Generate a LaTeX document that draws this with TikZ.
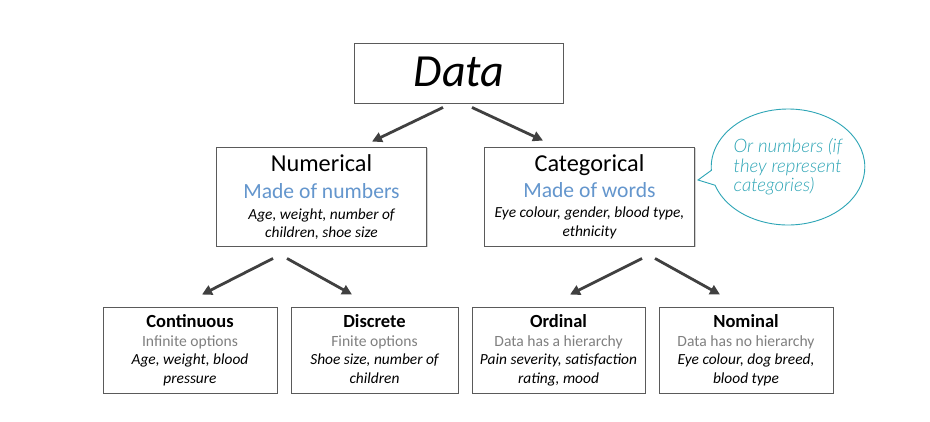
\documentclass[tikz,border=0pt]{standalone}
\usepackage{fontspec}
\setmainfont{Carlito}
\newfontfamily\notefont{Lato Light}[ItalicFont={Lato Light Italic}]
\usetikzlibrary{arrows.meta,shadows,shapes.callouts}

\definecolor{boxline}{RGB}{90,90,90}
\definecolor{arrowgray}{RGB}{64,64,64}
\definecolor{headblue}{RGB}{100,150,205}
\definecolor{subgray}{RGB}{128,128,128}
\definecolor{noteteal}{RGB}{45,165,182}

\tikzset{
  box/.style={draw=boxline, line width=0.9pt, fill=white, inner sep=0pt,
    drop shadow={shadow xshift=1.3pt, shadow yshift=-1.3pt, opacity=0.35}},
  topbox/.style={box, minimum width=210pt, minimum height=99pt},
  lowbox/.style={box, minimum height=86pt},
  arr/.style={draw=arrowgray, line width=2.8pt,
    -{Triangle[length=10pt,width=10pt]}},
  ln/.style={anchor=base, inner sep=0pt},
  bigtitle/.style={ln, font=\fontsize{24.3}{28}\selectfont},
  bluetag/.style={ln, text=headblue, font=\fontsize{21.6}{25}\selectfont},
  toptext/.style={ln, font=\fontsize{15.4}{18}\selectfont\itshape},
  lowtitle/.style={ln, font=\fontsize{18.5}{21}\selectfont\bfseries},
  graytag/.style={ln, text=subgray, font=\fontsize{15.6}{18}\selectfont},
  lowtext/.style={ln, font=\fontsize{15.4}{18}\selectfont\itshape},
}

\begin{document}
\begin{tikzpicture}[x=1pt, y=-1pt]
  \fill[white] (0,0) rectangle (930,422);
  \useasboundingbox (0,0) rectangle (930,422);

  % root
  \node[box, minimum width=209pt, minimum height=60pt] (data) at (458.5,73) {};
  \node[ln, font=\fontsize{46}{50}\selectfont\itshape] (dataT) at (459,87) {Data};

  % second level
  \node[topbox] (num) at (321.5,196.5) {};
  \node[bigtitle] (numA) at (321.5,172) {Numerical};
  \node[bluetag] (numB) at (321.5,199) {Made of numbers};
  \node[toptext] (numC) at (321.5,220) {Age, weight, number of};
  \node[toptext] (numD) at (321.5,238) {children, shoe size};

  \node[topbox] (cat) at (589.5,196.5) {};
  \node[bigtitle] (catA) at (589.5,172) {Categorical};
  \node[bluetag] (catB) at (589.5,198) {Made of words};
  \node[toptext] (catC) at (589.5,218) {Eye colour, gender, blood type,};
  \node[toptext] (catD) at (589.5,237) {ethnicity};

  % third level
  \node[lowbox, minimum width=174pt] (cont) at (190,350) {};
  \node[lowtitle] (contA) at (190,327) {Continuous};
  \node[graytag] (contB) at (190,347) {Infinite options};
  \node[lowtext] (contC) at (190,365) {Age, weight, blood};
  \node[lowtext] (contD) at (190,383) {pressure};

  \node[lowbox, minimum width=167pt] (disc) at (374.5,350) {};
  \node[lowtitle] (discA) at (374.5,327) {Discrete};
  \node[graytag] (discB) at (374.5,347) {Finite options};
  \node[lowtext] (discC) at (374.5,365) {Shoe size, number of};
  \node[lowtext] (discD) at (374.5,383) {children};

  \node[lowbox, minimum width=173pt] (ord) at (558.5,350) {};
  \node[lowtitle] (ordA) at (558.5,327) {Ordinal};
  \node[graytag] (ordB) at (558.5,347) {Data has a hierarchy};
  \node[lowtext] (ordC) at (558.5,365) {Pain severity, satisfaction};
  \node[lowtext] (ordD) at (558.5,383) {rating, mood};

  \node[lowbox, minimum width=174pt] (nom) at (746,350) {};
  \node[lowtitle] (nomA) at (746,327) {Nominal};
  \node[graytag] (nomB) at (746,347) {Data has no hierarchy};
  \node[lowtext] (nomC) at (746,365) {Eye colour, dog breed,};
  \node[lowtext] (nomD) at (746,383) {blood type};

  % side note
  \node[ellipse callout, draw=noteteal, line width=0.9pt, fill=white,
        minimum width=140pt, minimum height=116pt, inner sep=0pt,
        callout absolute pointer={(698,180)}, text=noteteal, align=left,
        font=\notefont\itshape\fontsize{18.6}{19.5}\selectfont]
    (note) at (788,167) {Or numbers (if\\they represent\\categories)};

  % connectors
  \draw[arr] ([xshift=-15.5pt,yshift=-4pt]data.south) -- ([xshift=50.5pt,yshift=5pt]num.north);
  \draw[arr] ([xshift=13.5pt,yshift=-4pt]data.south) -- ([xshift=-46.5pt,yshift=6pt]cat.north);
  \draw[arr] ([xshift=-48.5pt,yshift=-12pt]num.south) -- ([xshift=12pt,yshift=12pt]cont.north);
  \draw[arr] ([xshift=-34.5pt,yshift=-12pt]num.south) -- ([xshift=-22.5pt,yshift=12pt]disc.north);
  \draw[arr] ([xshift=52.5pt,yshift=-12pt]cat.south) -- ([xshift=11.5pt,yshift=12pt]ord.north);
  \draw[arr] ([xshift=65.5pt,yshift=-12pt]cat.south) -- ([xshift=-26pt,yshift=12pt]nom.north);
\end{tikzpicture}
\end{document}
